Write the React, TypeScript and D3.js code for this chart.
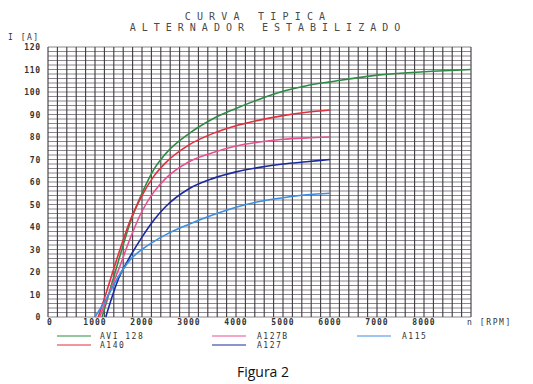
import { useRef, useEffect } from 'react';
import * as d3 from 'd3';

const W = 533;
const H = 384;

// RPM / current readings per alternator
const rpmShort = [1250, 1500, 1750, 2000, 2250, 2500, 3000, 3500, 4000, 4500, 5000, 5500, 6000];
const rpmLong = [1250, 1500, 1750, 2000, 2250, 2500, 3000, 3500, 4000, 4500, 5000, 5500, 6000, 7000, 8000, 9000];

const avi128 = [7, 25, 42, 55, 65.5, 72.5, 81.5, 88, 92.7, 96.8, 100.3, 102.8, 104.5, 107.5, 109, 110];
const a140 = [11.5, 28, 43, 54, 62.5, 68.5, 76.5, 81.5, 85, 87.5, 89.5, 91, 92];
const a127b = [8, 21, 35, 47, 55.5, 61.5, 69, 73, 76, 77.8, 79, 79.6, 80];
const a127 = [1.4, 17, 27, 35.5, 43, 49, 57, 61.5, 64.5, 66.5, 68, 69, 70];
const a115 = [8.5, 18, 25.5, 30, 33.5, 36.5, 41.2, 45.3, 48.8, 51.3, 53, 54.3, 55];

const startRpm = { avi128: 1150, a140: 1070, a127b: 1100, a127: 1230, a115: 1000 };

const xTicks = [0, 1000, 2000, 3000, 4000, 5000, 6000, 7000, 8000];
const yTicks = [0, 10, 20, 30, 40, 50, 60, 70, 80, 90, 100, 110, 120];

const series = [
  { name: 'AVI 128', color: '#2e8b45', rpm: [startRpm.avi128, ...rpmLong], amps: [0, ...avi128] },
  { name: 'A140', color: '#e2303f', rpm: [startRpm.a140, ...rpmShort], amps: [0, ...a140] },
  { name: 'A127B', color: '#ea4f90', rpm: [startRpm.a127b, ...rpmShort], amps: [0, ...a127b] },
  { name: 'A127', color: '#1c2a9c', rpm: [startRpm.a127, ...rpmShort], amps: [0, ...a127] },
  { name: 'A115', color: '#3a8fe2', rpm: [startRpm.a115, ...rpmShort], amps: [0, ...a115] },
];

// legend layout: [series index, column, row]
const legendOrder: [number, number, number][] = [[0, 0, 0], [1, 0, 1], [2, 1, 0], [3, 1, 1], [4, 2, 0]];

const mono = '"DejaVu Sans Mono", monospace';

function Chart() {
  const svgRef = useRef<SVGSVGElement>(null);

  useEffect(() => {
    if (!svgRef.current) return;
    const svg = d3.select(svgRef.current);
    svg.selectAll('*').remove();

    const left = 48, right = 471, top = 47, bottom = 317;
    const x = d3.scaleLinear().domain([0, 9000]).range([left, right]);
    const y = d3.scaleLinear().domain([0, 120]).range([bottom, top]);

    svg.append('rect').attr('width', W).attr('height', H).attr('fill', '#fff');

    // Title
    const title = svg.append('g').attr('font-family', mono).attr('fill', '#4a4a4a').attr('text-anchor', 'middle').attr('font-size', 10);
    title.append('text').attr('x', 258).attr('y', 20).attr('letter-spacing', 6.2).text('CURVA TIPICA');
    title.append('text').attr('x', 268).attr('y', 31).attr('letter-spacing', 6).text('ALTERNADOR ESTABILIZADO');

    // Grid
    const grid = svg.append('g');
    grid.selectAll('.h')
      .data(d3.range(0, 121, 2))
      .join('line')
      .attr('x1', left).attr('x2', right)
      .attr('y1', d => y(d)).attr('y2', d => y(d))
      .attr('stroke', '#6d6670').attr('stroke-width', 0.8);
    grid.selectAll('.v')
      .data(d3.range(0, 9001, 200))
      .join('line')
      .attr('x1', d => x(d)).attr('x2', d => x(d))
      .attr('y1', top).attr('y2', bottom)
      .attr('stroke', '#3e3a40').attr('stroke-width', 1.1);

    // Curves
    const line = d3.line<[number, number]>()
      .x(d => x(d[0]))
      .y(d => y(d[1]))
      .curve(d3.curveMonotoneX);
    series.forEach(s => {
      const pts = s.rpm.map((r, i) => [r, s.amps[i]] as [number, number]);
      svg.append('path')
        .attr('d', line(pts))
        .attr('fill', 'none')
        .attr('stroke', s.color)
        .attr('stroke-width', 1.6);
    });

    // Y axis labels
    const yAx = svg.append('g').attr('font-family', mono).attr('font-size', 8).attr('font-weight', 'bold').attr('fill', '#333');
    yAx.selectAll('text')
      .data(yTicks)
      .join('text')
      .attr('x', 41)
      .attr('y', d => y(d) + 3)
      .attr('text-anchor', 'end')
      .attr('letter-spacing', 0.8)
      .text(d => String(d));
    yAx.append('text').attr('x', 8).attr('y', 40).attr('font-weight', 'normal').attr('letter-spacing', 1.5).text('I [A]');

    // X axis labels
    const xAx = svg.append('g').attr('font-family', mono).attr('font-size', 8).attr('font-weight', 'bold').attr('fill', '#333');
    xAx.selectAll('text')
      .data(xTicks)
      .join('text')
      .attr('x', d => x(d) + (d === 0 ? 2 : 0))
      .attr('y', 325)
      .attr('text-anchor', 'middle')
      .attr('letter-spacing', 1)
      .text(d => String(d));
    xAx.append('text').attr('x', 467).attr('y', 325).attr('font-weight', 'normal').attr('letter-spacing', 1.6).text('n [RPM]');

    // Legend
    const legend = svg.append('g').attr('font-family', mono).attr('font-size', 8).attr('fill', '#333');
    legendOrder.forEach(([si, col, row]) => {
      const s = series[si];
      const lx = [57, 212, 357][col];
      const tx = [100, 257, 402][col];
      const ly = 336 + row * 9;
      legend.append('line').attr('x1', lx).attr('x2', lx + 34).attr('y1', ly).attr('y2', ly)
        .attr('stroke', s.color).attr('stroke-width', 1.2);
      legend.append('text').attr('x', tx).attr('y', ly + 3).attr('letter-spacing', 1.5).text(s.name);
    });

    svg.append('text')
      .attr('x', 263).attr('y', 377)
      .attr('text-anchor', 'middle')
      .attr('font-family', '"Open Sans", sans-serif')
      .attr('font-size', 14)
      .attr('fill', '#111')
      .text('Figura 2');
  }, []);

  return <svg ref={svgRef} width={W} height={H} style={{ position: 'absolute', left: 0, top: 0 }} />;
}

export default function App() {
  return <Chart />;
}
